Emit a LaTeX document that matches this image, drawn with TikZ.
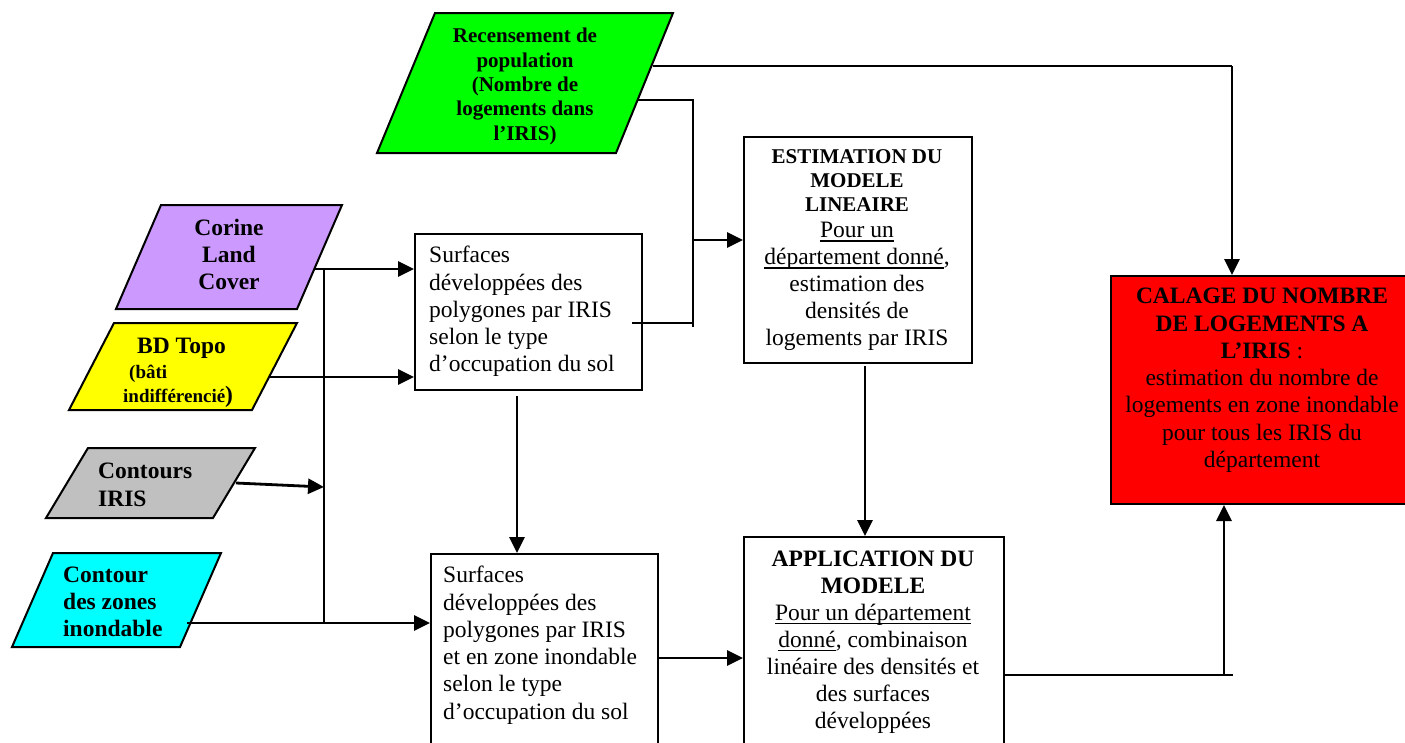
\documentclass[tikz,border=0pt]{standalone}
\usepackage{fontspec}
\setmainfont{Liberation Serif}
\usetikzlibrary{arrows.meta,calc}
\newcommand{\smallbold}{\fontsize{21}{24.4}\selectfont\bfseries}
\newcommand{\uln}[1]{\setbox0=\hbox{#1}\rlap{\rule[-3.6pt]{\wd0}{1.2pt}}\box0}
\begin{document}
\begin{tikzpicture}[x=1pt,y=-1pt,
  box/.style={draw,line width=2pt,inner sep=0pt,anchor=north west},
  para/.style={draw,line width=2pt,line join=miter},
  conn/.style={line width=2pt},
  arr/.style={line width=2.8pt,-{Triangle[length=16pt,width=15pt]}},
  txt/.style={inner sep=0pt,text=black},
  rmtxt/.style={txt,font=\fontsize{23.5}{27.3}\selectfont},
  bftxt/.style={txt,font=\fontsize{23.5}{27.3}\selectfont\bfseries},
]
\useasboundingbox (0,0) rectangle (1405,742);

% ---------- input parallelograms ----------
\draw[para,fill={rgb,255:red,0;green,255;blue,0}] (435,13) -- (673,13) -- (616,153) -- (377,153) -- cycle;
\draw[para,fill={rgb,255:red,204;green,153;blue,255}] (161,205) -- (342,205) -- (297,309) -- (116,309) -- cycle;
\draw[para,fill={rgb,255:red,255;green,255;blue,0}] (114,323) -- (297,323) -- (252,410) -- (69,410) -- cycle;
\draw[para,fill={rgb,255:red,192;green,192;blue,192}] (88,448) -- (255,448) -- (213,518) -- (46,518) -- cycle;
\draw[para,fill={rgb,255:red,0;green,255;blue,255}] (53,553) -- (221,553) -- (180,647) -- (12,647) -- cycle;

\node[txt,align=center,anchor=north,font=\smallbold] (recens) at (525,28)
  {Recensement de\\population\\(Nombre de\\logements dans\\l’IRIS)};
\node[bftxt,align=center,anchor=north,font=\fontsize{23.5}{27}\selectfont\bfseries] (corine) at (229,219)
  {Corine\\Land\\Cover};
\node[txt,align=left,anchor=north west,font=\fontsize{19}{24.5}\selectfont\bfseries] (bdtopo) at (123,338)
  {\hspace*{14pt}{\fontsize{23.5}{24.5}\selectfont BD Topo}\\\hspace*{6pt}(bâti\\indifférencié{\fontsize{23.5}{24.5}\selectfont)}};
\node[txt,align=left,anchor=north west,font=\fontsize{23.5}{28}\selectfont\bfseries] (contours) at (98,463)
  {Contours\\IRIS};
\node[txt,align=left,anchor=north west,font=\fontsize{23.5}{27}\selectfont\bfseries] (zones) at (63,567)
  {Contour\\des zones\\inondable};

% ---------- process boxes ----------
\node[box,minimum width=227pt,minimum height=156pt] (surf1) at (414,233) {};
\node[box,minimum width=227pt,minimum height=250pt] (surf2) at (430,553) {};
\node[box,minimum width=228pt,minimum height=226pt] (estim) at (743,136) {};
\node[box,minimum width=260pt,minimum height=250pt] (appli) at (743,536) {};
\node[box,fill=red,minimum width=297pt,minimum height=228pt] (calage) at (1110,275) {};

\node[rmtxt,align=left,anchor=north west] (surf1txt) at (429,246)
  {Surfaces\\développées des\\polygones par IRIS\\selon le type\\d’occupation du sol};
\node[rmtxt,align=left,anchor=north west] (surf2txt) at (443,566)
  {Surfaces\\développées des\\polygones par IRIS\\et en zone inondable\\selon le type\\d’occupation du sol};
\node[txt,align=center,anchor=north,font=\fontsize{23.5}{27}\selectfont] (estimtxt) at (857,149)
  {{\smallbold ESTIMATION DU}\\[-2.6pt]{\smallbold MODELE}\\[-2.6pt]{\smallbold LINEAIRE}\\[-1pt]\uln{Pour un}\\\uln{département donné},\\estimation des\\densités de\\logements par IRIS};
\node[txt,align=center,anchor=north,font=\fontsize{23.5}{27}\selectfont] (applitxt) at (873,551)
  {{\bfseries APPLICATION DU}\\{\bfseries MODELE}\\\uln{Pour un département}\\\uln{donné}, combinaison\\linéaire des densités et\\des surfaces\\développées};
\node[txt,align=center,anchor=north,font=\fontsize{23.5}{27.3}\selectfont] (calagetxt) at (1262,288)
  {{\bfseries CALAGE DU NOMBRE}\\{\bfseries DE LOGEMENTS A}\\{\bfseries L’IRIS} :\\estimation du nombre de\\logements en zone inondable\\pour tous les IRIS du\\département};

% ---------- connector points ----------
\coordinate (recens-out1) at (653,66);
\coordinate (recens-out2) at (638,100);
\coordinate (corine-out) at (314,269);
\coordinate (bdtopo-out) at (269,377);
\coordinate (contours-out) at (236,483);
\coordinate (zones-out) at (187,623);
\coordinate (bus-top) at (324,269);
\coordinate (bus-in) at (324,487);
\coordinate (bus-bot) at (324,623);
\coordinate (surf1-side) at (632,323);
\coordinate (merge) at (693,240);
\coordinate (surf1-out) at (517,396);
\coordinate (surf2-out) at (657,658);
\coordinate (estim-out) at (865,366);
\coordinate (appli-out) at (1005,675);
\coordinate (appli-end) at (1233,675);
\coordinate (riser) at (1224,675);

% ---------- connectors ----------
\draw[conn] (recens-out1) -- (recens-out1 -| calage.north west) -- ++(122,0);
\draw[arr] ($(recens-out1 -| calage.north west)+(122,0)$) -- ($(calage.north west)+(122,0)$);
\draw[conn] (recens-out2) -| (693,327);
\draw[conn] (surf1-side) -- (surf1-side -| merge);
\draw[arr] (merge) -- (merge -| estim.west);
\draw[arr] (corine-out) -- (corine-out -| surf1.west);
\draw[conn] (bus-top) -- (bus-bot);
\draw[arr] (bdtopo-out) -- (bdtopo-out -| surf1.west);
\draw[arr] (contours-out) -- (bus-in);
\draw[arr] (zones-out) -- (zones-out -| surf2.west);
\draw[arr] (surf1-out) -- (surf1-out |- surf2.north);
\draw[arr] (surf2-out) -- (surf2-out -| appli.west);
\draw[arr] (estim-out) -- (estim-out |- appli.north);
\draw[conn] (appli-out) -- (appli-end);
\draw[arr] (riser) -- (riser |- calage.south);
\end{tikzpicture}
\end{document}
